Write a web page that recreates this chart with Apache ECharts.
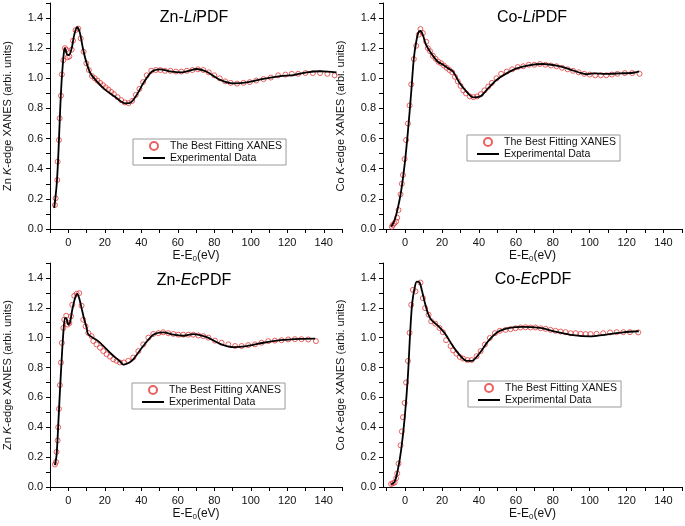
<!DOCTYPE html>
<html>
<head>
<meta charset="utf-8">
<script src="https://cdn.jsdelivr.net/npm/echarts@6/dist/echarts.min.js"></script>
<style>
    html, body { margin: 0; padding: 0; background: #fff; }
    #chart { width: 685px; height: 526px; }
</style>
</head>
<body>
<div id="chart"></div>
<script>
// tick labels
const xTicks = [0, 20, 40, 60, 80, 100, 120, 140]
const xAllTicks = [-10, 0, 10, 20, 30, 40, 50, 60, 70, 80, 90, 100, 110, 120, 130, 140, 150]
const yTicks = [0, 0.2, 0.4, 0.6, 0.8, 1.0, 1.2, 1.4]
const yAllTicks = [0, 0.1, 0.2, 0.3, 0.4, 0.5, 0.6, 0.7, 0.8, 0.9, 1.0, 1.1, 1.2, 1.3, 1.4, 1.5]

// Zn-LiPDF
const znLiExpE = [-7.7, -7.1, -6.3, -5.6, -5.0, -4.4, -3.7, -3.0, -2.3, -1.8, -0.7, 0.4, 1.9, 3.3, 4.8, 6.2, 8.2, 10.1, 12.3, 16.4, 20.1, 25.6, 28.5, 31.1, 33.5, 35.6, 38.5, 41.1, 45.7, 50.3, 55.8, 62.2, 66.0, 70.4, 75.9, 83.2, 90.5, 97.8, 106.9, 116.1, 123.4, 130.7, 138.0, 142.0, 147.0]
const znLiExpY = [0.14, 0.20, 0.30, 0.45, 0.62, 0.80, 0.97, 1.09, 1.18, 1.20, 1.16, 1.155, 1.20, 1.29, 1.34, 1.31, 1.19, 1.10, 1.03, 0.97, 0.925, 0.878, 0.85, 0.834, 0.835, 0.856, 0.91, 0.967, 1.044, 1.06, 1.046, 1.04, 1.05, 1.062, 1.044, 0.99, 0.967, 0.973, 0.997, 1.015, 1.022, 1.04, 1.047, 1.045, 1.04]
const znLiFitE = [-7.3, -6.9, -6.0, -5.8, -5.1, -4.7, -4.0, -3.5, -2.7, -1.8, -1.1, -0.3, 0.6, 1.9, 2.6, 4.0, 5.5, 6.8, 8.4, 9.9, 11.3, 13.0, 14.5, 16.0, 17.5, 19.0, 20.5, 22.0, 23.5, 25.0, 27.0, 29.0, 31.0, 33.0, 35.0, 37.0, 39.0, 41.0, 43.0, 45.5, 48.0, 50.5, 53.0, 56.0, 59.0, 62.0, 65.0, 68.0, 71.0, 74.0, 77.0, 80.0, 83.0, 86.0, 89.0, 92.5, 96.0, 99.5, 103.0, 107.0, 111.0, 115.0, 119.0, 122.5, 126.0, 130.0, 134.0, 138.0, 142.0, 146.0]
const znLiFitY = [0.159, 0.204, 0.325, 0.447, 0.59, 0.735, 0.885, 1.026, 1.12, 1.20, 1.19, 1.14, 1.145, 1.19, 1.25, 1.32, 1.33, 1.265, 1.177, 1.10, 1.055, 1.015, 1.00, 0.985, 0.97, 0.955, 0.94, 0.925, 0.91, 0.895, 0.875, 0.855, 0.84, 0.835, 0.85, 0.89, 0.93, 0.975, 1.02, 1.05, 1.055, 1.055, 1.05, 1.05, 1.045, 1.045, 1.05, 1.055, 1.06, 1.055, 1.04, 1.02, 1.00, 0.98, 0.97, 0.965, 0.97, 0.975, 0.985, 0.995, 1.005, 1.02, 1.025, 1.03, 1.03, 1.035, 1.035, 1.035, 1.03, 1.02]

// Co-LiPDF
const coLiExpE = [-7.5, -5.7, -4.0, -2.2, -0.3, 1.5, 3.3, 4.7, 6.0, 7.2, 8.3, 9.6, 11.4, 14.1, 17.7, 20.6, 23.5, 26.0, 29.6, 34.1, 36.8, 40.5, 44.1, 49.5, 54.9, 60.4, 67.6, 74.8, 82.0, 89.2, 94.6, 98.3, 101.8, 109.1, 116.3, 123.5, 126.8]
const coLiExpY = [0.015, 0.06, 0.137, 0.25, 0.425, 0.646, 0.911, 1.133, 1.243, 1.305, 1.314, 1.287, 1.22, 1.166, 1.11, 1.09, 1.065, 1.044, 0.967, 0.90, 0.874, 0.878, 0.922, 0.989, 1.033, 1.066, 1.088, 1.095, 1.084, 1.06, 1.037, 1.027, 1.033, 1.03, 1.033, 1.037, 1.046]
const coLiFitE = [-7.2, -6.7, -5.8, -4.9, -4.3, -3.6, -2.5, -1.8, -1.2, -0.3, 0.5, 1.5, 2.4, 3.3, 4.7, 6.0, 7.4, 8.3, 9.6, 11.4, 12.3, 13.5, 15.0, 16.5, 18.0, 19.5, 21.0, 22.5, 24.0, 25.5, 27.0, 28.5, 30.0, 31.5, 33.0, 35.0, 37.0, 39.0, 41.0, 43.0, 45.0, 47.0, 49.5, 52.0, 55.0, 58.0, 61.0, 64.0, 67.0, 70.0, 73.0, 76.0, 79.0, 82.0, 85.0, 88.0, 91.0, 94.0, 97.0, 100.0, 103.0, 106.0, 109.0, 112.0, 115.0, 119.0, 123.0, 127.0]
const coLiFitY = [0.015, 0.027, 0.038, 0.049, 0.075, 0.126, 0.23, 0.30, 0.358, 0.464, 0.59, 0.70, 0.82, 0.96, 1.128, 1.216, 1.29, 1.327, 1.30, 1.243, 1.20, 1.18, 1.15, 1.13, 1.11, 1.10, 1.085, 1.07, 1.055, 1.04, 1.01, 0.98, 0.95, 0.92, 0.90, 0.88, 0.875, 0.88, 0.895, 0.92, 0.945, 0.97, 1.00, 1.03, 1.045, 1.06, 1.075, 1.08, 1.09, 1.09, 1.095, 1.09, 1.085, 1.08, 1.07, 1.06, 1.05, 1.04, 1.03, 1.025, 1.02, 1.02, 1.02, 1.025, 1.03, 1.035, 1.035, 1.03]

// Zn-EcPDF
const znEcExpE = [-7.3, -6.4, -5.5, -4.6, -3.6, -2.7, -1.8, -1.1, 0.0, 0.9, 2.2, 3.7, 4.9, 6.0, 7.3, 8.8, 10.1, 11.0, 16.4, 23.8, 28.3, 30.2, 33.0, 35.6, 41.1, 46.6, 52.0, 57.6, 63.1, 68.5, 75.9, 83.2, 90.5, 97.8, 106.9, 116.1, 127.0, 135.3]
const znEcExpY = [0.146, 0.213, 0.41, 0.633, 0.855, 1.03, 1.13, 1.13, 1.088, 1.10, 1.187, 1.264, 1.293, 1.264, 1.198, 1.12, 1.065, 1.021, 0.977, 0.889, 0.842, 0.82, 0.83, 0.855, 0.944, 1.02, 1.036, 1.02, 1.013, 1.024, 1.003, 0.959, 0.937, 0.944, 0.966, 0.983, 0.992, 0.994]
const znEcFitE = [-7.3, -6.7, -6.4, -5.8, -5.5, -5.1, -4.6, -4.0, -3.5, -2.7, -2.2, -1.1, -0.3, 0.6, 1.5, 2.2, 3.3, 4.6, 6.0, 7.3, 8.2, 9.5, 11.0, 12.8, 13.7, 15.5, 17.4, 19.2, 21.0, 22.9, 24.7, 26.5, 28.3, 30.5, 32.9, 35.6, 38.4, 41.1, 43.9, 46.6, 49.4, 52.0, 54.8, 57.6, 60.3, 63.0, 65.8, 68.5, 71.3, 74.0, 76.8, 80.4, 84.0, 87.7, 91.4, 95.0, 98.6, 102.3, 105.9, 109.6, 113.2, 116.9, 120.5, 124.2, 127.8, 131.5, 135.7]
const znEcFitY = [0.151, 0.168, 0.235, 0.312, 0.40, 0.523, 0.682, 0.833, 0.965, 1.065, 1.12, 1.147, 1.088, 1.098, 1.143, 1.22, 1.28, 1.294, 1.298, 1.214, 1.12, 1.076, 1.032, 1.01, 0.977, 0.955, 0.933, 0.91, 0.889, 0.873, 0.855, 0.845, 0.834, 0.834, 0.845, 0.867, 0.91, 0.955, 1.0, 1.025, 1.03, 1.036, 1.03, 1.025, 1.02, 1.02, 1.02, 1.02, 1.015, 1.01, 1.0, 0.98, 0.966, 0.955, 0.944, 0.944, 0.95, 0.955, 0.966, 0.977, 0.98, 0.983, 0.988, 0.99, 0.99, 0.988, 0.977]

// Co-EcPDF
const coEcExpE = [-7.6, -5.7, -4.0, -2.2, -0.3, 1.5, 2.7, 3.8, 5.1, 6.3, 7.8, 9.2, 10.5, 12.3, 14.1, 17.7, 21.3, 25.3, 27.8, 30.5, 33.3, 36.0, 40.5, 45.0, 50.4, 56.7, 63.9, 73.0, 82.0, 91.0, 100.0, 109.1, 118.1, 126.6]
const coEcExpY = [0.018, 0.035, 0.113, 0.246, 0.456, 0.744, 1.03, 1.23, 1.33, 1.375, 1.37, 1.31, 1.243, 1.165, 1.12, 1.081, 1.032, 0.955, 0.91, 0.87, 0.844, 0.844, 0.899, 0.977, 1.039, 1.065, 1.072, 1.065, 1.039, 1.017, 1.008, 1.021, 1.036, 1.043]
const coEcFitE = [-7.6, -6.7, -5.7, -4.9, -4.3, -3.6, -2.5, -1.8, -1.2, -0.3, 0.5, 1.5, 2.4, 3.3, 4.2, 5.6, 8.3, 9.6, 10.8, 12.7, 14.1, 16.3, 18.6, 20.4, 22.2, 24.6, 26.0, 27.8, 29.6, 31.4, 33.8, 36.0, 38.7, 40.9, 43.2, 45.9, 48.6, 51.3, 54.4, 57.1, 59.8, 62.5, 65.2, 67.9, 70.6, 73.4, 76.1, 78.8, 81.5, 84.2, 86.9, 89.6, 92.4, 95.1, 97.8, 100.5, 103.7, 107.3, 111.0, 114.6, 118.2, 121.8, 126.3]
const coEcFitY = [0.02, 0.025, 0.03, 0.058, 0.091, 0.157, 0.279, 0.372, 0.467, 0.563, 0.70, 0.844, 1.032, 1.22, 1.32, 1.31, 1.369, 1.265, 1.198, 1.154, 1.11, 1.094, 1.065, 1.037, 0.983, 0.944, 0.915, 0.893, 0.871, 0.86, 0.85, 0.85, 0.876, 0.91, 0.954, 0.998, 1.03, 1.046, 1.052, 1.057, 1.063, 1.068, 1.07, 1.068, 1.068, 1.063, 1.059, 1.052, 1.046, 1.041, 1.037, 1.03, 1.03, 1.026, 1.024, 1.024, 1.026, 1.03, 1.035, 1.037, 1.037, 1.037, 1.035]

const FIT_NAME = 'The Best Fitting XANES'
const EXP_NAME = 'Experimental Data'
const FONT = '"Liberation Sans", Arial, sans-serif'

const panels = [
    { title: 'Zn-{i|Li}PDF', element: 'Zn', expE: znLiExpE, expY: znLiExpY, fitE: znLiFitE, fitY: znLiFitY,
      grid: { left: 50, top: 3, width: 292, height: 226 }, xMin: -10, titleAt: [194, 18], legendAt: [133, 139] },
    { title: 'Co-{i|Li}PDF', element: 'Co', expE: coLiExpE, expY: coLiExpY, fitE: coLiFitE, fitY: coLiFitY,
      grid: { left: 383, top: 3, width: 299, height: 226 }, xMin: -12, titleAt: [532, 18], legendAt: [467, 135] },
    { title: 'Zn-{i|Ec}PDF', element: 'Zn', expE: znEcExpE, expY: znEcExpY, fitE: znEcFitE, fitY: znEcFitY,
      grid: { left: 50, top: 263, width: 292, height: 224 }, xMin: -10, titleAt: [194, 281], legendAt: [132, 383] },
    { title: 'Co-{i|Ec}PDF', element: 'Co', expE: coEcExpE, expY: coEcExpY, fitE: coEcFitE, fitY: coEcFitY,
      grid: { left: 383, top: 263, width: 299, height: 224 }, xMin: -12, titleAt: [533, 280], legendAt: [468, 381] },
]

const zip = (xs, ys) => xs.map((x, i) => [x, ys[i]])
const labelStyle = { fontSize: 11, color: '#111', fontFamily: FONT }

let myChart = echarts.init(document.getElementById('chart'), null, { renderer: 'canvas' })

let grids = [], xAxes = [], yAxes = [], series = [], legends = [], texts = []
panels.forEach((p, i) => {
    grids.push(p.grid)
    xAxes.push({
        type: 'value', gridIndex: i, position: 'bottom', min: p.xMin, max: 150,
        axisLine: { show: true, onZero: false, lineStyle: { color: '#000', width: 1 } },
        splitLine: { show: false },
        axisTick: { show: true, customValues: xAllTicks, length: 4, lineStyle: { color: '#000' } },
        axisLabel: { customValues: xTicks, margin: 8, ...labelStyle, formatter: v => String(v) },
        name: 'E-E{sub|0}(eV)', nameLocation: 'middle', nameGap: 18,
        nameTextStyle: { fontSize: 12, color: '#111', fontFamily: FONT, lineHeight: 14,
            rich: { sub: { fontSize: 8, fontFamily: FONT, color: '#111', verticalAlign: 'bottom', lineHeight: 8, padding: [6, 0, 0, 0] } } }
    })
    yAxes.push({
        type: 'value', gridIndex: i, position: 'left', min: 0, max: 1.5,
        axisLine: { show: true, onZero: false, lineStyle: { color: '#000', width: 1 } },
        splitLine: { show: false },
        axisTick: { show: true, customValues: yAllTicks, length: 4, lineStyle: { color: '#000' } },
        axisLabel: { customValues: yTicks, margin: 7, ...labelStyle, formatter: v => v.toFixed(1) },
        name: p.element + ' {i|K}-edge XANES (arbi. units)', nameLocation: 'middle', nameGap: 37,
        nameTextStyle: { fontSize: 11, color: '#111', fontFamily: FONT,
            rich: { i: { fontSize: 11, fontStyle: 'italic', fontFamily: FONT, color: '#111' } } }
    })
    series.push({
        name: FIT_NAME, type: 'scatter', xAxisIndex: i, yAxisIndex: i,
        symbol: 'circle', symbolSize: 5,
        itemStyle: { color: 'rgba(0,0,0,0)', borderColor: '#e33a3a', borderWidth: 1 },
        data: zip(p.fitE, p.fitY)
    })
    series.push({
        name: EXP_NAME, type: 'line', xAxisIndex: i, yAxisIndex: i,
        symbol: 'none', smooth: 0.3,
        itemStyle: { color: '#000' },
        lineStyle: { color: '#000', width: 1.8 },
        data: zip(p.expE, p.expY)
    })
    legends.push({
        left: p.legendAt[0], top: p.legendAt[1], orient: 'vertical',
        itemWidth: 22, itemHeight: 8, itemGap: 0, padding: [1, 4, 1, 10],
        borderColor: '#9a9a9a', borderWidth: 1, backgroundColor: '#fff',
        textStyle: { fontSize: 10.5, color: '#111', fontFamily: FONT, lineHeight: 12 },
        selectedMode: false,
        data: [
            { name: FIT_NAME, icon: 'emptyCircle', itemStyle: { color: '#e33a3a', borderColor: '#e33a3a', borderWidth: 2 } },
            { name: EXP_NAME, icon: 'path://M0,0 L22,0 L22,2 L0,2 Z', itemStyle: { color: '#000', borderWidth: 0 } }
        ]
    })
    texts.push({
        type: 'text', x: p.titleAt[0], y: p.titleAt[1],
        style: {
            text: p.title, fontSize: 16, fontFamily: FONT, fill: '#000',
            align: 'center', verticalAlign: 'middle', textAlign: 'center', textVerticalAlign: 'middle',
            rich: { i: { fontSize: 16, fontStyle: 'italic', fontFamily: FONT, fill: '#000' } }
        }
    })
})

myChart.setOption({
    animation: false,
    backgroundColor: '#fff',
    grid: grids,
    xAxis: xAxes,
    yAxis: yAxes,
    legend: legends,
    graphic: texts,
    series: series
})
</script>
</body>
</html>
